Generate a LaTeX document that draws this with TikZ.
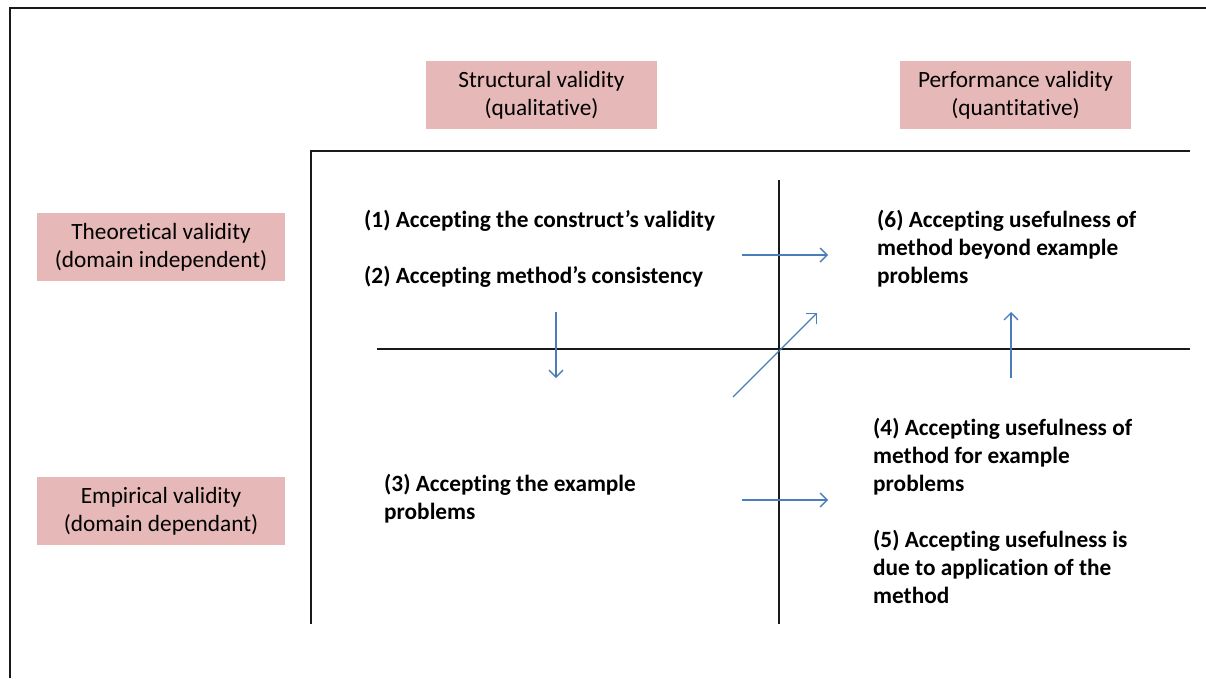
\documentclass[tikz,border=0pt]{standalone}
\usepackage{fontspec}
\setmainfont{Carlito}[Ligatures=NoCommon]
\usetikzlibrary{arrows.meta}
\definecolor{pinkfill}{HTML}{E6B9B8}
\definecolor{arrowblue}{HTML}{4A7EBB}
\definecolor{rulegray}{HTML}{1A1A1A}
\begin{document}
\begin{tikzpicture}[x=1pt,y=-1pt,
  header/.style={fill=pinkfill, minimum height=68pt, align=center, inner sep=0pt,
    font=\fontsize{23.3}{28}\selectfont},
  colhead/.style={header, minimum width=231pt},
  rowhead/.style={header, minimum width=248pt},
  claim/.style={anchor=base west, align=left, inner sep=0pt,
    font=\fontsize{23.3}{28}\selectfont\bfseries},
  gridline/.style={draw=rulegray, line width=1.5pt},
  frameline/.style={draw=black!90, line width=2.2pt},
  flow/.style={draw=arrowblue, line width=1.3pt,
    -{Straight Barb[length=7pt, width=14pt, line width=1.3pt]}}]
\useasboundingbox (0,0) rectangle (1206,678);

% outer frame
\draw[frameline] (10,678) -- (10,8) -- (1206,8);

% column and row headings
\node[colhead] (struct) at (541.5,95) {Structural validity\\(qualitative)};
\node[colhead] (perf) at (1015.5,95) {Performance validity\\(quantitative)};
\node[rowhead] (theo) at (161,247) {Theoretical validity\\(domain independent)};
\node[rowhead] (emp) at (161,511) {Empirical validity\\(domain dependant)};

% quadrant grid
\draw[gridline] (311,624) -- (311,151) -- (1190,151);
\draw[gridline] (779,180) -- (779,624);
\draw[gridline] (377,349) -- (1190,349);

% claims in the four quadrants (base anchor sits on the last line)
\node[claim] (c1) at (364,227) {(1) Accepting the construct’s validity};
\node[claim] (c2) at (364,283) {(2) Accepting method’s consistency};
\node[claim] (c3) at (384,519) {(3) Accepting the example\\problems};
\node[claim] (c6) at (877,283) {(6) Accepting usefulness of\\method beyond example\\problems};
\node[claim] (c4) at (873,491) {(4) Accepting usefulness of\\method for example\\problems};
\node[claim] (c5) at (873,603) {(5) Accepting usefulness is\\due to application of the\\method};

% arrow end points
\coordinate (a1s) at (742,255);  \coordinate (a1e) at (828,255);
\coordinate (a2s) at (742,500);  \coordinate (a2e) at (828,500);
\coordinate (a3s) at (556,312);  \coordinate (a3e) at (556,378);
\coordinate (a4s) at (1011,378); \coordinate (a4e) at (1011,312);
\coordinate (a5s) at (733,397);  \coordinate (a5e) at (817,313);

\draw[flow] (a1s) -- (a1e);
\draw[flow] (a2s) -- (a2e);
\draw[flow] (a3s) -- (a3e);
\draw[flow] (a4s) -- (a4e);
\draw[flow] (a5s) -- (a5e);
\end{tikzpicture}
\end{document}
